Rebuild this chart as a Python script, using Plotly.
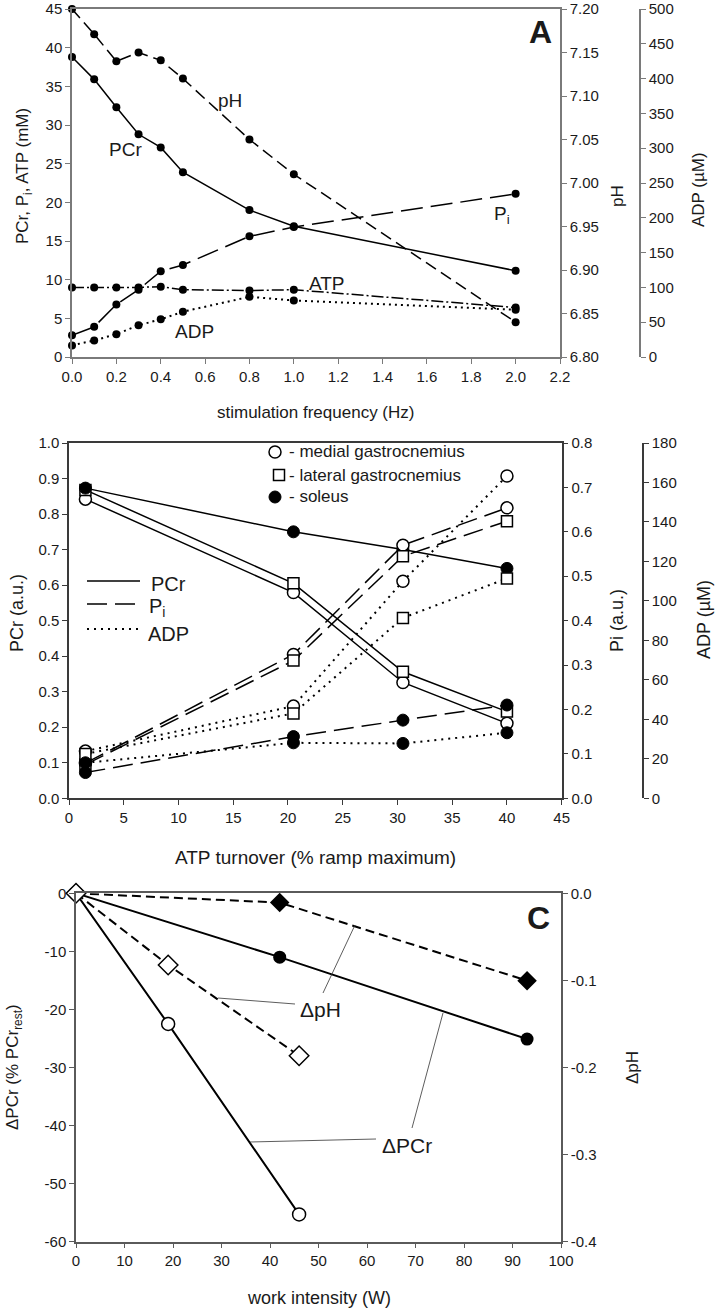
import plotly.graph_objects as go

# ---------------- DATA ----------------
# Panel A
freq_hz = [0.0, 0.1, 0.2, 0.3, 0.4, 0.5, 0.8, 1.0, 2.0]
pcr_mM = [38.8, 35.9, 32.3, 28.8, 27.1, 23.9, 19.0, 16.9, 11.15]
ph_A = [7.200, 7.171, 7.140, 7.150, 7.141, 7.120, 7.050, 7.010, 6.840]
pi_mM = [2.8, 3.9, 6.8, 8.7, 11.1, 11.9, 15.6, 16.8, 21.1]
atp_mM = [9.0, 9.0, 9.0, 9.0, 9.1, 8.7, 8.6, 8.7, 6.4]
adp_uM_A = [16.7, 23.8, 32.8, 45.6, 54.1, 65.1, 86.5, 81.2, 67.9]

# Panel B
turnover = [1.5, 20.5, 30.5, 40.0]
pcr_medial = [0.842, 0.579, 0.326, 0.211]
pcr_lateral = [0.868, 0.605, 0.356, 0.244]
pcr_soleus = [0.873, 0.750, 0.700, 0.647]
pi_medial = [0.079, 0.324, 0.570, 0.654]
pi_lateral = [0.076, 0.310, 0.545, 0.624]
pi_soleus = [0.058, 0.139, 0.176, 0.210]
adp_medial = [23.9, 46.7, 110.0, 163.3]
adp_lateral = [22.5, 43.0, 91.4, 111.4]
adp_soleus = [18.0, 28.1, 27.8, 33.2]

# Panel C
work_open = [0, 19, 46]
dpcr_open = [0, -22.5, -55.3]
dph_open = [0, -0.0823, -0.1865]
work_filled = [0, 42, 93]
dpcr_filled = [0, -11.0, -25.1]
dph_filled = [0, -0.0107, -0.1003]

# Tick labels
ticks_A_x = [0.0, 0.2, 0.4, 0.6, 0.8, 1.0, 1.2, 1.4, 1.6, 1.8, 2.0, 2.2]
ticks_A_y = [0, 5, 10, 15, 20, 25, 30, 35, 40, 45]
ticks_A_ph = [6.80, 6.85, 6.90, 6.95, 7.00, 7.05, 7.10, 7.15, 7.20]
ticks_A_adp = [0, 50, 100, 150, 200, 250, 300, 350, 400, 450, 500]
ticks_B_x = [0, 5, 10, 15, 20, 25, 30, 35, 40, 45]
ticks_B_y = [0.0, 0.1, 0.2, 0.3, 0.4, 0.5, 0.6, 0.7, 0.8, 0.9, 1.0]
ticks_B_pi = [0.0, 0.1, 0.2, 0.3, 0.4, 0.5, 0.6, 0.7, 0.8]
ticks_B_adp = [0, 20, 40, 60, 80, 100, 120, 140, 160, 180]
ticks_C_x = [0, 10, 20, 30, 40, 50, 60, 70, 80, 90, 100]
ticks_C_y = [0, -10, -20, -30, -40, -50, -60]
ticks_C_y_text = ["0", "-10", "-20", "-30", "-40", "-50", "-60"]
ticks_C_ph = [0.0, -0.1, -0.2, -0.3, -0.4]
ticks_C_ph_text = ["0.0", "-0.1", "-0.2", "-0.3", "-0.4"]

# ---------------- LAYOUT HELPERS ----------------
W, H = 716, 1310
FONT = "Liberation Sans, Arial, sans-serif"
TXT = "#1a1a1a"


def fx(px):
    return px / W


def fy(py):
    return 1 - py / H


def axis_style(color, tickfont=15):
    return dict(showline=True, linecolor=color, linewidth=1.5, ticks="outside",
                ticklen=5, tickwidth=1.2, tickcolor=color, showgrid=False,
                zeroline=False, automargin=False, ticklabeloverflow="allow",
                tickfont=dict(family=FONT, size=tickfont, color=TXT))


fig = go.Figure()

# ---------------- PANEL A ----------------
mk = dict(size=8, color="black")
fig.add_trace(go.Scatter(x=freq_hz, y=pcr_mM, mode="lines+markers",
                         line=dict(color="black", width=1.5), marker=mk,
                         xaxis="x", yaxis="y", cliponaxis=False))
fig.add_trace(go.Scatter(x=freq_hz, y=pi_mM, mode="lines+markers",
                         line=dict(color="black", width=1.5, dash="22px,8px"), marker=mk,
                         xaxis="x", yaxis="y", cliponaxis=False))
fig.add_trace(go.Scatter(x=freq_hz, y=atp_mM, mode="lines+markers",
                         line=dict(color="black", width=1.5, dash="12px,3px,2px,3px"), marker=mk,
                         xaxis="x", yaxis="y", cliponaxis=False))
fig.add_trace(go.Scatter(x=freq_hz, y=adp_uM_A, mode="lines+markers",
                         line=dict(color="black", width=2, dash="2px,4px"), marker=mk,
                         xaxis="x", yaxis="y3", cliponaxis=False))
fig.add_trace(go.Scatter(x=freq_hz, y=ph_A, mode="lines+markers",
                         line=dict(color="black", width=1.5, dash="12px,6px"), marker=mk,
                         xaxis="x", yaxis="y2", cliponaxis=False))

# ---------------- PANEL B ----------------
open_circle = dict(symbol="circle", size=12, color="white", line=dict(color="black", width=1.5))
open_square = dict(symbol="square", size=11, color="white", line=dict(color="black", width=1.5))
filled_circle = dict(symbol="circle", size=12, color="black", line=dict(color="black", width=1))

muscles = [
    (pcr_medial, pi_medial, adp_medial, open_circle),
    (pcr_lateral, pi_lateral, adp_lateral, open_square),
    (pcr_soleus, pi_soleus, adp_soleus, filled_circle),
]
for pcr, pi, adp, m in muscles:
    fig.add_trace(go.Scatter(x=turnover, y=adp, mode="lines+markers",
                             line=dict(color="black", width=2, dash="2px,5px"), marker=m,
                             xaxis="x2", yaxis="y6", cliponaxis=False))
    fig.add_trace(go.Scatter(x=turnover, y=pi, mode="lines+markers",
                             line=dict(color="black", width=1.5, dash="20px,8px"), marker=m,
                             xaxis="x2", yaxis="y5", cliponaxis=False))
    fig.add_trace(go.Scatter(x=turnover, y=pcr, mode="lines+markers",
                             line=dict(color="black", width=1.5), marker=m,
                             xaxis="x2", yaxis="y4", cliponaxis=False))

# ---------------- PANEL C ----------------
fig.add_trace(go.Scatter(x=work_filled, y=dpcr_filled, mode="lines+markers",
                         line=dict(color="black", width=2),
                         marker=dict(symbol="circle", size=13, color="black"),
                         xaxis="x3", yaxis="y7", cliponaxis=False))
fig.add_trace(go.Scatter(x=work_open, y=dpcr_open, mode="lines+markers",
                         line=dict(color="black", width=2),
                         marker=dict(symbol="circle", size=13, color="white",
                                     line=dict(color="black", width=1.5)),
                         xaxis="x3", yaxis="y7", cliponaxis=False))
fig.add_trace(go.Scatter(x=work_filled, y=dph_filled, mode="lines+markers",
                         line=dict(color="black", width=2, dash="9px,5px"),
                         marker=dict(symbol="diamond", size=15, color="black"),
                         xaxis="x3", yaxis="y8", cliponaxis=False))
fig.add_trace(go.Scatter(x=work_open, y=dph_open, mode="lines+markers",
                         line=dict(color="black", width=2, dash="9px,5px"),
                         marker=dict(symbol="diamond", size=15, color="white",
                                     line=dict(color="black", width=1.5)),
                         xaxis="x3", yaxis="y8", cliponaxis=False))

# ---------------- AXES ----------------
cA, cB, cC = "#7a7a7a", "#3a3a3a", "#5a5a5a"
layout = dict(
    width=W, height=H, margin=dict(l=0, r=0, t=0, b=0, autoexpand=False),
    paper_bgcolor="white", plot_bgcolor="white", showlegend=False,
    font=dict(family=FONT, color=TXT),
    xaxis=dict(domain=[fx(72), fx(560)], anchor="y", range=[0, 2.2], mirror=True,
               tickvals=ticks_A_x, ticktext=[f"{v:.1f}" for v in ticks_A_x], **axis_style(cA)),
    yaxis=dict(domain=[fy(357), fy(9)], anchor="x", range=[0, 45],
               tickvals=ticks_A_y, ticktext=[str(v) for v in ticks_A_y], **axis_style(cA)),
    yaxis2=dict(overlaying="y", side="right", anchor="x", range=[6.80, 7.20],
                tickvals=ticks_A_ph, ticktext=[f"{v:.2f}" for v in ticks_A_ph], **axis_style(cA)),
    yaxis3=dict(overlaying="y", side="right", anchor="free", position=fx(640), range=[0, 500],
                tickvals=ticks_A_adp, ticktext=[str(v) for v in ticks_A_adp], **axis_style(cA)),
    xaxis2=dict(domain=[fx(69), fx(561.7)], anchor="y4", range=[0, 45], mirror=True,
                tickvals=ticks_B_x, ticktext=[str(v) for v in ticks_B_x], **axis_style(cB)),
    yaxis4=dict(domain=[fy(798.3), fy(443)], anchor="x2", range=[0, 1.0],
                tickvals=ticks_B_y, ticktext=[f"{v:.1f}" for v in ticks_B_y], **axis_style(cB)),
    yaxis5=dict(overlaying="y4", side="right", anchor="x2", range=[0, 0.8],
                tickvals=ticks_B_pi, ticktext=[f"{v:.1f}" for v in ticks_B_pi], **axis_style(cB)),
    yaxis6=dict(overlaying="y4", side="right", anchor="free", position=fx(643), range=[0, 180],
                tickvals=ticks_B_adp, ticktext=[str(v) for v in ticks_B_adp], **axis_style(cB)),
    xaxis3=dict(domain=[fx(76), fx(561)], anchor="y7", range=[0, 100], mirror=True,
                tickvals=ticks_C_x, ticktext=[str(v) for v in ticks_C_x], **axis_style(cC)),
    yaxis7=dict(domain=[fy(1241.7), fy(893.3)], anchor="x3", range=[-60, 0],
                tickvals=ticks_C_y, ticktext=ticks_C_y_text, **axis_style(cC)),
    yaxis8=dict(overlaying="y7", side="right", anchor="x3", range=[-0.4, 0],
                tickvals=ticks_C_ph, ticktext=ticks_C_ph_text, **axis_style(cC)),
)
fig.update_layout(**layout)

# ---------------- ANNOTATIONS ----------------
ann = []


def label(text, x, y, size, angle=0, bold=False, xanchor="center"):
    t = f"<b>{text}</b>" if bold else text
    ann.append(dict(text=t, x=x, y=y, xref="paper", yref="paper", showarrow=False, textangle=angle,
                    xanchor=xanchor, yanchor="middle",
                    font=dict(family=FONT, size=size, color=TXT)))


# Panel A
label("pH", fx(230), fy(101), 19)
label("PCr", fx(125), fy(150), 19)
label("ATP", fx(327), fy(283), 19)
label("ADP", fx(195), fy(332), 19)
label("P<sub>i</sub>", fx(502), fy(215), 19)
label("A", fx(540), fy(32), 32, bold=True)
label("PCr, P<sub>i</sub>, ATP (mM)", fx(24), fy(176), 17, angle=-90)
label("pH", fx(617), fy(196), 17, angle=-90)
label("ADP (µM)", fx(698), fy(190), 17, angle=-90)
label("stimulation frequency (Hz)", fx(315), fy(412), 17)

# Panel B
label("- medial gastrocnemius", fx(287), fy(452), 17, xanchor="left")
label("- lateral gastrocnemius", fx(287), fy(475), 17, xanchor="left")
label("- soleus", fx(287), fy(497), 17, xanchor="left")
label("PCr", fx(149), fy(584), 20, xanchor="left")
label("P<sub>i</sub>", fx(147), fy(608), 20, xanchor="left")
label("ADP", fx(146), fy(634), 20, xanchor="left")
label("PCr (a.u.)", fx(17), fy(613), 18, angle=-90)
label("Pi (a.u.)", fx(617), fy(621), 18, angle=-90)
label("ADP (µM)", fx(704), fy(620), 18, angle=-90)
label("ATP turnover (% ramp maximum)", fx(315), fy(857), 19)

# Panel C
label("ΔpH", fx(320), fy(1009), 21)
label("ΔPCr", fx(407), fy(1145), 21)
label("C", fx(538), fy(918), 32, bold=True)
label("ΔPCr (% PCr<sub>rest</sub>)", fx(14), fy(1067), 17, angle=-90)
label("ΔpH", fx(632), fy(1068), 17, angle=-90)
label("work intensity (W)", fx(319), fy(1298), 18)

fig.update_layout(annotations=ann)

# ---------------- SHAPES (legend samples, leader lines) ----------------
shapes = []
r = 6
shapes.append(dict(type="circle", xref="paper", yref="paper", x0=fx(275 - r), x1=fx(275 + r),
                   y0=fy(452 + r), y1=fy(452 - r), line=dict(color="black", width=1.5), fillcolor="white"))
s = 5.5
shapes.append(dict(type="rect", xref="paper", yref="paper", x0=fx(279 - s), x1=fx(279 + s),
                   y0=fy(475 + s), y1=fy(475 - s), line=dict(color="black", width=1.5), fillcolor="white"))
shapes.append(dict(type="circle", xref="paper", yref="paper", x0=fx(275 - r), x1=fx(275 + r),
                   y0=fy(497 + r), y1=fy(497 - r), line=dict(color="black", width=1), fillcolor="black"))
shapes.append(dict(type="line", xref="paper", yref="paper", x0=fx(87), x1=fx(140), y0=fy(581), y1=fy(581),
                   line=dict(color="black", width=1.5)))
shapes.append(dict(type="line", xref="paper", yref="paper", x0=fx(87), x1=fx(140), y0=fy(604), y1=fy(604),
                   line=dict(color="black", width=1.5, dash="20px,8px")))
shapes.append(dict(type="line", xref="paper", yref="paper", x0=fx(87), x1=fx(140), y0=fy(629), y1=fy(629),
                   line=dict(color="black", width=2, dash="2px,5px")))
for (x0, y0, x1, y1) in [(218, 998, 295, 1004), (323, 993, 355, 925),
                         (250, 1142, 376, 1139), (412, 1128, 443, 1013)]:
    shapes.append(dict(type="line", xref="paper", yref="paper", x0=fx(x0), y0=fy(y0), x1=fx(x1), y1=fy(y1),
                       line=dict(color="#333333", width=0.8)))
fig.update_layout(shapes=shapes)

# remove the browser's default page margin so the figure sits at the window origin
fig.write_html("out.html", config={"displayModeBar": False},
               post_script="document.body.style.margin='0px';")
